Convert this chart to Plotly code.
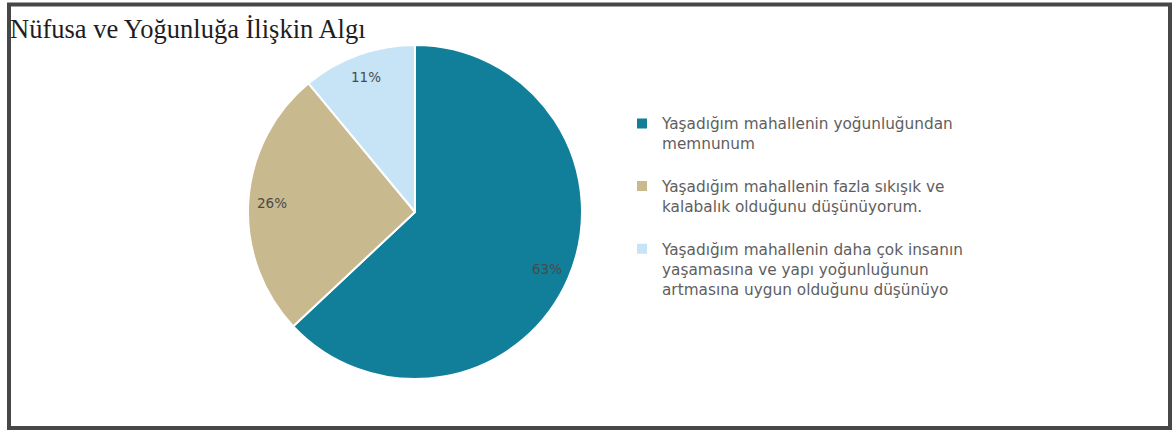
import math
import plotly.graph_objects as go

title = "Nüfusa ve Yoğunluğa İlişkin Algı"
labels = [
    "Yaşadığım mahallenin yoğunluğundan<br>memnunum<br> ",
    "Yaşadığım mahallenin fazla sıkışık ve<br>kalabalık olduğunu düşünüyorum.<br> ",
    "Yaşadığım mahallenin daha çok insanın<br>yaşamasına ve yapı yoğunluğunun<br>artmasına uygun olduğunu düşünüyo",
]
values = [63, 26, 11]
colors = ["#117f9a", "#c9b98f", "#c6e4f6"]

W, H = 1176, 430
cx, cy, R = 415, 212, 167

fig = go.Figure()
fig.add_trace(go.Pie(
    labels=labels,
    values=values,
    sort=False,
    direction="clockwise",
    rotation=0,
    marker=dict(colors=colors, line=dict(color="white", width=2)),
    textinfo="none",
    domain=dict(x=[(cx - R) / W, (cx + R) / W], y=[(H - cy - R) / H, (H - cy + R) / H]),
    showlegend=True,
    hoverinfo="label+percent",
))

# percentage labels placed near the rim (like the original), angles derived from values
total = sum(values)
annotations = []
cum = 0
for v in values:
    mid = (cum + v / 2) / total * 2 * math.pi
    cum += v
    px = cx + 0.86 * R * math.sin(mid)
    py = cy - 0.86 * R * math.cos(mid)
    annotations.append(dict(
        x=px / W, y=1 - py / H, xref="paper", yref="paper",
        xanchor="center", yanchor="middle",
        text=f"{round(v / total * 100)}%", showarrow=False,
        font=dict(family="DejaVu Sans, Arial", size=13.5, color="#4a4a4a"),
    ))

fig.update_layout(
    width=W, height=H,
    margin=dict(l=0, r=0, t=0, b=0),
    paper_bgcolor="white",
    plot_bgcolor="white",
    title=dict(
        text=title,
        x=10 / W, xanchor="left",
        y=1 - 19 / H, yanchor="top",
        font=dict(family="Liberation Serif, Times New Roman", size=26.5, color="#1e1e1e"),
    ),
    legend=dict(
        x=622 / W, xanchor="left",
        y=1 - 107 / H, yanchor="top",
        valign="top",
        font=dict(family="DejaVu Sans, Arial", size=15.3, color="#5e5e5e"),
        bgcolor="rgba(0,0,0,0)",
        itemclick=False,
    ),
    annotations=annotations,
    shapes=[dict(
        type="rect", xref="paper", yref="paper",
        x0=9 / W, x1=1170 / W, y0=2 / H, y1=1 - 4.5 / H,
        line=dict(color="#474747", width=4),
        fillcolor="rgba(0,0,0,0)",
    )],
)

fig.write_html("out.html", config={"displayModeBar": False},
               post_script="document.body.style.margin='0';")
